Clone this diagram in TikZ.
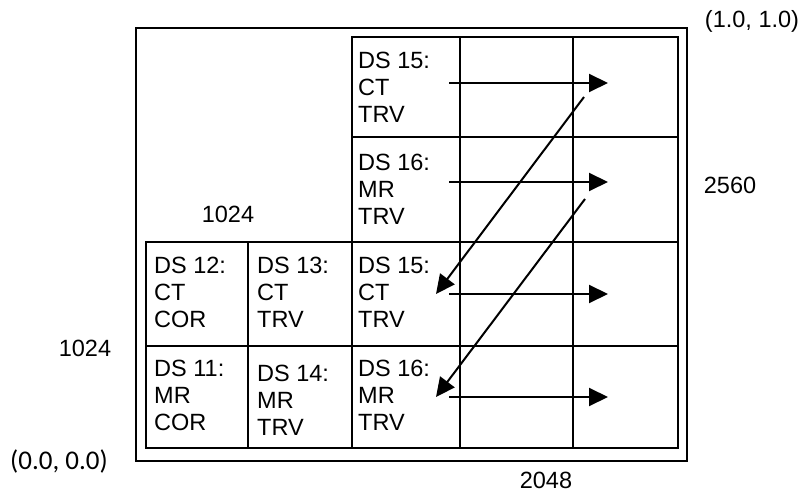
\documentclass[tikz,border=0pt]{standalone}
\usepackage{fontspec}
\setmainfont{Liberation Sans}
\newfontfamily\calfont{Carlito}
\usetikzlibrary{arrows.meta,calc}
\begin{document}
\begin{tikzpicture}[x=1pt,y=-1pt,
  gridline/.style={line width=2pt},
  cellbox/.style={draw, gridline, inner sep=0pt},
  celltext/.style={anchor=west, align=left, inner sep=0pt, font=\fontsize{23.5}{27}\selectfont},
  lbl/.style={inner sep=0pt, font=\fontsize{23.5}{26}\selectfont},
  flow/.style={line width=2pt, -{Triangle[length=19pt,width=18pt]}}
]
\useasboundingbox (0,0) rectangle (803,494);
% outer frame
\node[cellbox, minimum width=551, minimum height=433] (frame) at (411.5,244.5) {};
% right block, column 2 (352-460)
\node[cellbox, minimum width=108, minimum height=100] (a15) at (406,87) {};
\node[cellbox, minimum width=108, minimum height=105] (a16) at (406,189.5) {};
\node[cellbox, minimum width=108, minimum height=104] (b15) at (406,294) {};
\node[cellbox, minimum width=108, minimum height=102] (b16) at (406,397) {};
% column 3 (460-573)
\node[cellbox, minimum width=113, minimum height=100] (e31) at (516.5,87) {};
\node[cellbox, minimum width=113, minimum height=105] (e32) at (516.5,189.5) {};
\node[cellbox, minimum width=113, minimum height=104] (e33) at (516.5,294) {};
\node[cellbox, minimum width=113, minimum height=102] (e34) at (516.5,397) {};
% column 4 (573-678)
\node[cellbox, minimum width=105, minimum height=100] (e41) at (625.5,87) {};
\node[cellbox, minimum width=105, minimum height=105] (e42) at (625.5,189.5) {};
\node[cellbox, minimum width=105, minimum height=104] (e43) at (625.5,294) {};
\node[cellbox, minimum width=105, minimum height=102] (e44) at (625.5,397) {};
% left block
\node[cellbox, minimum width=102, minimum height=104] (c12) at (197,294) {};
\node[cellbox, minimum width=102, minimum height=102] (c11) at (197,397) {};
\node[cellbox, minimum width=104, minimum height=104] (c13) at (300,294) {};
\node[cellbox, minimum width=104, minimum height=102] (c14) at (300,397) {};
% cell texts
\node[celltext] (ta15) at ($(a15.west)+(7,0)$) {DS 15:\\CT\\TRV};
\node[celltext] (ta16) at ($(a16.west)+(7,0)$) {DS 16:\\MR\\TRV};
\node[celltext] (tb15) at ($(b15.west)+(7,-2)$) {DS 15:\\CT\\TRV};
\node[celltext] (tb16) at ($(b16.west)+(7,-2)$) {DS 16:\\MR\\TRV};
\node[celltext] (tc12) at ($(c12.west)+(9,-2)$) {DS 12:\\CT\\COR};
\node[celltext] (tc11) at ($(c11.west)+(9,-2)$) {DS 11:\\MR\\COR};
\node[celltext] (tc13) at ($(c13.west)+(10,-2)$) {DS 13:\\CT\\TRV};
\node[celltext] (tc14) at ($(c14.west)+(10,3)$) {DS 14:\\MR\\TRV};
% arrows
\coordinate (h1s) at (449,83);  \coordinate (h1e) at (608,83);
\coordinate (h2s) at (449,182); \coordinate (h2e) at (608,182);
\coordinate (h3s) at (449,294); \coordinate (h3e) at (608,294);
\coordinate (h4s) at (449,397); \coordinate (h4e) at (608,397);
\coordinate (d1s) at (584,97);  \coordinate (d1e) at (436,294);
\coordinate (d2s) at (585,199); \coordinate (d2e) at (436,397);
\draw[flow] (h1s) -- (h1e);
\draw[flow] (h2s) -- (h2e);
\draw[flow] (h3s) -- (h3e);
\draw[flow] (h4s) -- (h4e);
\draw[flow] (d1s) -- (d1e);
\draw[flow] (d2s) -- (d2e);
% labels
\node[lbl] (l11) at (752,21) {(1.0, 1.0)};
\node[lbl] (l2560) at (730,185) {2560};
\node[lbl] (l1024a) at (228,214) {1024};
\node[lbl] (l1024b) at (85,348) {1024};
\node[inner sep=0pt, font=\calfont\fontsize{27}{30}\selectfont] (l00) at (59,461) {(0.0, 0.0)};
\node[lbl] (l2048) at (546,480) {2048};
\end{tikzpicture}
\end{document}
